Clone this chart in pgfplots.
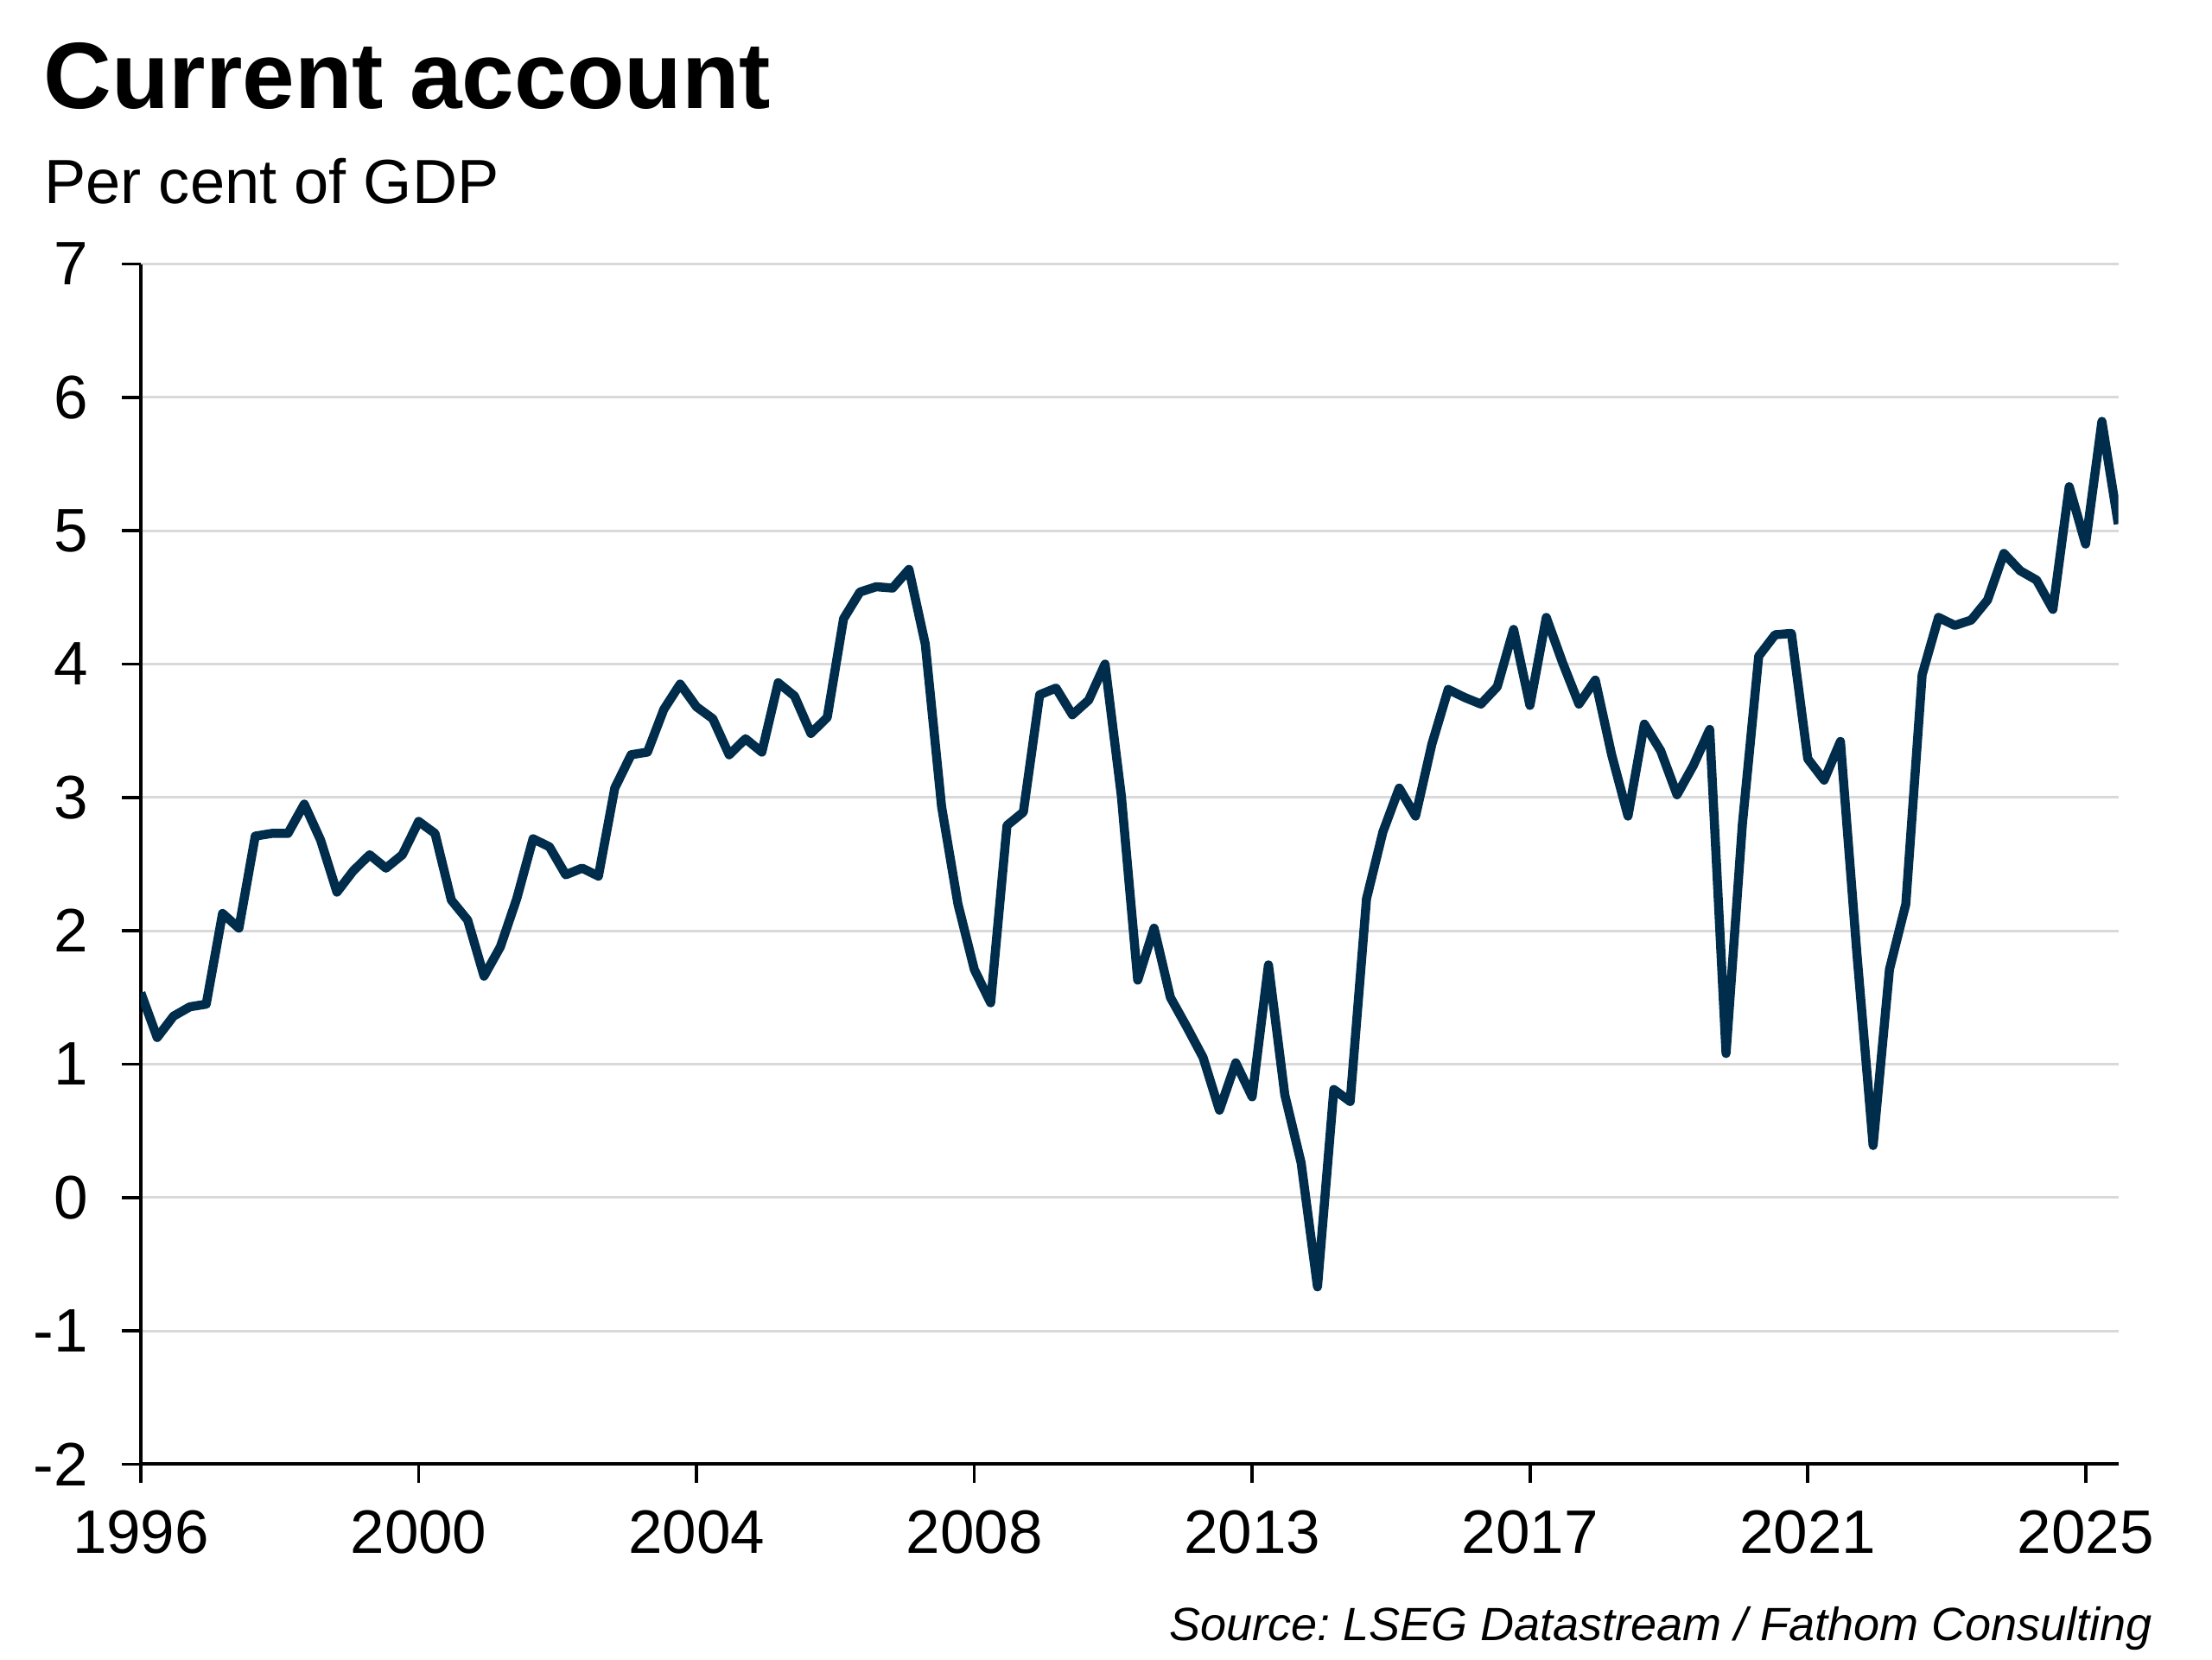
\documentclass[border=0pt]{standalone}
\usepackage{fontspec}
\setmainfont{Liberation Sans}
\usepackage{pgfplots}
\pgfplotsset{compat=1.18}
\definecolor{lineblue}{RGB}{0,45,75}
\definecolor{gridgray}{RGB}{217,217,217}
\pgfplotstableread{
i v
0 1.535
1 1.20
2 1.36
3 1.43
4 1.45
5 2.13
6 2.02
7 2.71
8 2.73
9 2.73
10 2.95
11 2.68
12 2.29
13 2.45
14 2.57
15 2.47
16 2.57
17 2.82
18 2.73
19 2.23
20 2.08
21 1.66
22 1.88
23 2.24
24 2.69
25 2.63
26 2.42
27 2.47
28 2.41
29 3.07
30 3.32
31 3.34
32 3.66
33 3.85
34 3.68
35 3.59
36 3.32
37 3.44
38 3.34
39 3.86
40 3.76
41 3.48
42 3.60
43 4.34
44 4.54
45 4.58
46 4.57
47 4.71
48 4.15
49 2.93
50 2.20
51 1.71
52 1.46
53 2.79
54 2.89
55 3.77
56 3.82
57 3.62
58 3.73
59 4.00
60 3.01
61 1.63
62 2.02
63 1.50
64 1.28
65 1.05
66 0.655
67 1.01
68 0.755
69 1.745
70 0.77
71 0.26
72 -0.67
73 0.81
74 0.72
75 2.24
76 2.74
77 3.07
78 2.86
79 3.40
80 3.81
81 3.75
82 3.70
83 3.83
84 4.26
85 3.69
86 4.35
87 4.01
88 3.70
89 3.88
90 3.32
91 2.86
92 3.55
93 3.35
94 3.02
95 3.24
96 3.51
97 1.08
98 2.80
99 4.06
100 4.22
101 4.23
102 3.29
103 3.13
104 3.42
105 1.84
106 0.39
107 1.71
108 2.20
109 3.92
110 4.35
111 4.29
112 4.33
113 4.48
114 4.83
115 4.70
116 4.63
117 4.41
118 5.33
119 4.90
120 5.82
121 5.05
}\cadata
\begin{document}
\frenchspacing
\begin{tikzpicture}
\path[use as bounding box] (0,0) rectangle (512pt,384.2pt);
\node[anchor=base west, inner sep=0pt, font=\fontsize{21.8}{26}\selectfont\bfseries] at (9.9pt,359pt) {Current account};
\node[anchor=base west, inner sep=0pt, font=\fontsize{14.45}{17}\selectfont] at (10.1pt,337pt) {Per cent of GDP};
\node[anchor=base east, inner sep=0pt, font=\fontsize{10.8}{13}\selectfont\itshape] at (498.4pt,4.4pt) {Source: LSEG Datastream / Fathom Consulting};
\begin{axis}[
  at={(32.6pt,45.3pt)}, anchor=south west,
  scale only axis, width=457.7pt, height=277.8pt,
  xmin=0, xmax=121, ymin=-2, ymax=7,
  axis x line*=bottom, axis y line*=left,
  axis line style={black, line width=0.8pt},
  xtick={0,17,34,51,68,85,102,119},
  xticklabels={1996,2000,2004,2008,2013,2017,2021,2025},
  ytick={-2,-1,0,1,2,3,4,5,6,7},
  yticklabels={-2,-1,0,1,2,3,4,5,6,7},
  tick align=outside, major tick length=4.4pt,
  tick style={black, line width=0.75pt},
  minor tick num=0,
  ymajorgrids, grid style={gridgray, line width=0.55pt},
  ticklabel style={font=\fontsize{14.2}{17}\selectfont},
  yticklabel style={xshift=-4.3pt},
  xticklabel style={yshift=-2.8pt},
]
\addplot[lineblue, line width=2.1pt, line join=round, mark=none] table[x=i, y=v] {\cadata};
\end{axis}
\end{tikzpicture}
\end{document}
